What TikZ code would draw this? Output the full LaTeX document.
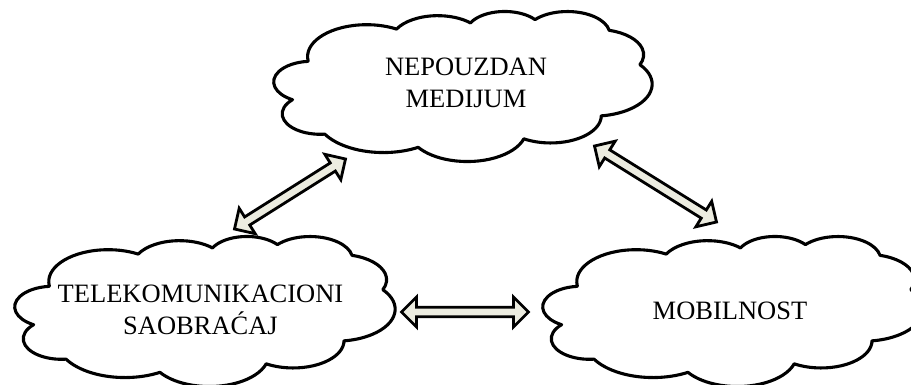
\documentclass[tikz,border=0pt]{standalone}
\usepackage{fontspec}
\setmainfont{Liberation Serif}
\usetikzlibrary{calc}
\definecolor{arrowfill}{RGB}{236,236,224}
\newcommand\carc[4]{arc[x radius=#1, y radius=#2, start angle={atan2(#1*sin(#3),#2*cos(#3))}, delta angle={mod(atan2(#1*sin(#3+#4),#2*cos(#3+#4))-atan2(#1*sin(#3),#2*cos(#3))+720,360)}]}
\newcommand\cloudpath{(39,143.7)
 \carc{67.53}{91.90}{-190.48748}{123.78053}
 \carc{53.33}{72.67}{-144.10238}{89.94523}
 \carc{43.65}{59.45}{-145.80792}{99.72302}
 \carc{48.57}{65.95}{-130.98607}{117.24173}
 \carc{53.33}{72.73}{-78.70888}{109.02692}
 \carc{67.75}{92.20}{-46.26725}{130.269}
 \carc{57.85}{78.67}{0.62502}{114.03333}
 \carc{67.52}{92.15}{22.4516}{115.17255}
 \carc{77.20}{105.43}{66.24263}{75.71102}
 \carc{43.60}{59.18}{-274.94208}{146.73557}
 \carc{43.45}{59.45}{-246.8285}{152.51885}
 -- cycle}
\newcommand\drawcloud[4]{%
  \pgfmathsetmacro\cldsx{#3/432}%
  \pgfmathsetmacro\cldsy{#4/432}%
  \begin{scope}[shift={(#1pt,-#2pt)}, x=\cldsx pt, y=-\cldsy pt]
    \draw[cloudline] \cloudpath;
  \end{scope}}
\newcommand\hl{15pt}
\newcommand\hw{15pt}
\newcommand\sw{4.8pt}
\newcommand\dblarrow[2]{%
  \draw[blockarrow] (#1) -- ($(#1)!\hl!(#2)!\hw!90:(#2)$) -- ($(#1)!\hl!(#2)!\sw!90:(#2)$)
   -- ($(#2)!\hl!(#1)!\sw!-90:(#1)$) -- ($(#2)!\hl!(#1)!\hw!-90:(#1)$) -- (#2)
   -- ($(#2)!\hl!(#1)!\hw!90:(#1)$) -- ($(#2)!\hl!(#1)!\sw!90:(#1)$)
   -- ($(#1)!\hl!(#2)!\sw!-90:(#2)$) -- ($(#1)!\hl!(#2)!\hw!-90:(#2)$) -- cycle;}
\tikzset{
  cloudline/.style={draw=black, fill=white, line width=3.1pt, line join=round},
  blockarrow/.style={draw=black, fill=arrowfill, line width=2.8pt, line join=miter, miter limit=10},
  label/.style={font=\fontsize{26.5}{32}\selectfont, align=center, inner sep=0pt}
}
\begin{document}
\begin{tikzpicture}[x=1pt, y=-1pt]
\useasboundingbox (0,0) rectangle (911,385);
\clip (0,0) rectangle (911,385);
\fill[white] (0,0) rectangle (911,385);
\drawcloud{274}{11}{378}{150}
\drawcloud{15}{236}{380}{150}
\drawcloud{543}{236}{380}{150}
\node[label] (top) at (466,83) {NEPOUZDAN\\MEDIJUM};
\node[label] (left) at (200.5,310) {TELEKOMUNIKACIONI\\SAOBRAĆAJ};
\node[label] (right) at (730,311) {MOBILNOST};
\coordinate (a1) at (234.5,229);
\coordinate (a2) at (345.5,159);
\coordinate (b1) at (594.5,146);
\coordinate (b2) at (716.5,222);
\coordinate (c1) at (401.5,312);
\coordinate (c2) at (528.5,312);
\dblarrow{a1}{a2}
\dblarrow{b1}{b2}
\dblarrow{c1}{c2}
\end{tikzpicture}
\end{document}
